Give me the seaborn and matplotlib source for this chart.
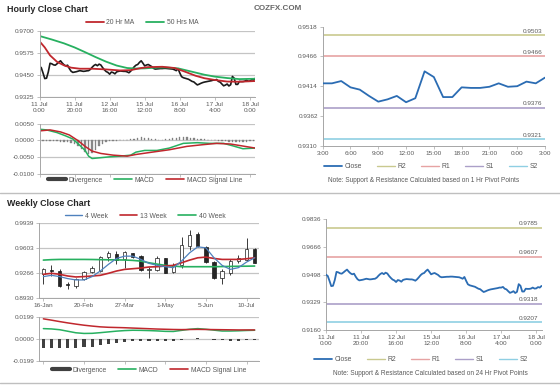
import numpy as np
import pandas as pd
import matplotlib
matplotlib.use("Agg")
import matplotlib.pyplot as plt
import seaborn as sns
from matplotlib.lines import Line2D

# ---------------- data ----------------
# hourly close, 11 Jul 0:00 .. 18 Jul 3:00 (trading hours)
hourly_close = [
    0.9498, 0.9490, 0.9460, 0.9428, 0.9430, 0.9465, 0.9515, 0.9512, 0.9506, 0.9504,
    0.9512, 0.9521, 0.9529, 0.9516, 0.9506, 0.9500, 0.9504, 0.9485, 0.9470, 0.9463,
    0.9465, 0.9467, 0.9470, 0.9473, 0.9471, 0.9469, 0.9470, 0.9472, 0.9473, 0.9480,
    0.9492, 0.9502, 0.9508, 0.9501, 0.9510, 0.9505, 0.9490, 0.9478, 0.9468, 0.9463,
    0.9453, 0.9465, 0.9462, 0.9455, 0.9466, 0.9469, 0.9471, 0.9470, 0.9469, 0.9469,
    0.9466, 0.9461, 0.9470, 0.9482, 0.9495, 0.9504, 0.9508, 0.9520, 0.9529, 0.9515,
    0.9500, 0.9505, 0.9508, 0.9502, 0.9496, 0.9486, 0.9482, 0.9483, 0.9484, 0.9485,
    0.9485, 0.9486, 0.9486, 0.9485, 0.9484, 0.9483, 0.9482, 0.9478, 0.9473, 0.9484,
    0.9460, 0.9439, 0.9433, 0.9430, 0.9427, 0.9424, 0.9418, 0.9412, 0.9409, 0.9400,
    0.9392, 0.9396, 0.9401, 0.9405, 0.9408, 0.9410, 0.9412, 0.9414, 0.9416, 0.9419,
    0.9419, 0.9423, 0.9412, 0.9408, 0.9397, 0.9387, 0.9391, 0.9397, 0.9386, 0.9393,
    0.9440, 0.9430, 0.9395, 0.9395, 0.9412, 0.9411, 0.9411, 0.9413, 0.9419, 0.9413,
    0.9414, 0.9422, 0.9419, 0.9429,
]
hour_tick_pos = [0, 20, 40, 60, 80, 100, 120]
hour_tick_labels = ["11 Jul\n0:00", "11 Jul\n20:00", "12 Jul\n16:00", "15 Jul\n12:00",
                    "16 Jul\n8:00", "17 Jul\n4:00", "18 Jul\n0:00"]

ma20_hours = [0, 3, 6, 10, 14, 18, 23, 30, 38, 46, 52, 58, 62, 70, 77, 83, 89, 94, 100, 107, 114, 123]
ma20_vals = [0.9640, 0.9605, 0.9560, 0.9523, 0.9503, 0.9490, 0.9484, 0.9484, 0.9480, 0.9474, 0.9476,
             0.9488, 0.9493, 0.9495, 0.9488, 0.9467, 0.9444, 0.9430, 0.9420, 0.9411, 0.9410, 0.9414]
ma50_hours = [0, 7, 14, 20, 26, 32, 38, 44, 50, 55, 60, 66, 72, 79, 84, 89, 94, 100, 107, 114, 123]
ma50_vals = [0.9670, 0.9650, 0.9628, 0.9605, 0.9578, 0.9550, 0.9524, 0.9502, 0.9488, 0.9485, 0.9486,
             0.9490, 0.9491, 0.9486, 0.9474, 0.9462, 0.9450, 0.9439, 0.9431, 0.9425, 0.9427]

macd_hours = [0, 4, 10, 15, 19, 23, 26, 28, 30, 34, 40, 46, 52, 55, 60, 67, 74, 82, 90, 97, 105, 110, 116, 123]
macd_vals = [0.0033, 0.0031, 0.0023, 0.0013, 0.0004, -0.0015, -0.0030, -0.0047, -0.0054, -0.0052,
             -0.0049, -0.0047, -0.0044, -0.0035, -0.0030, -0.0030, -0.0023, -0.0009, -0.0007,
             -0.0009, -0.0009, -0.0016, -0.0025, -0.0023]
signal_hours = [0, 6, 12, 17, 22, 26, 30, 35, 42, 50, 55, 63, 74, 84, 93, 101, 109, 116, 123]
signal_vals = [0.0028, 0.0031, 0.0025, 0.0016, -0.0001, -0.0018, -0.0032, -0.0039, -0.0044, -0.0047,
               -0.0042, -0.0036, -0.0028, -0.0018, -0.0013, -0.0009, -0.0011, -0.0017, -0.0023]
div_hours = list(range(0, 124, 2))
div_vals = [-0.0002, -0.0002, -0.0001, -0.0002, -0.0002, -0.0003, -0.0004, -0.0005, -0.0006, -0.0008,
            -0.0012, -0.0018, -0.0026, -0.0034, -0.0040, -0.0038, -0.0030, -0.0018, -0.0010, -0.0005,
            -0.0003, -0.0002, -0.0001, 0.0000, 0.0001, 0.0002, 0.0003, 0.0005, 0.0007, 0.0009,
            0.0008, 0.0006, 0.0004, 0.0003, 0.0002, 0.0002, 0.0003, 0.0004, 0.0006, 0.0008,
            0.0009, 0.0010, 0.0009, 0.0008, 0.0006, 0.0005, 0.0004, 0.0003, 0.0002, 0.0001,
            0.0000, -0.0001, -0.0002, -0.0003, -0.0004, -0.0005, -0.0006, -0.0006, -0.0005, -0.0004,
            -0.0003, -0.0002]

# weekly candles
week_open = [0.9253, 0.9310, 0.9297, 0.9115, 0.9097, 0.9186, 0.9288, 0.9297, 0.9484, 0.9528,
             0.9462, 0.9533, 0.9497, 0.9310, 0.9319, 0.9466, 0.9284, 0.9386, 0.9631, 0.9787,
             0.9622, 0.9417, 0.9208, 0.9275, 0.9431, 0.9453, 0.9595]
week_close = [0.9319, 0.9293, 0.9097, 0.9108, 0.9186, 0.9288, 0.9342, 0.9488, 0.9542, 0.9453,
              0.9551, 0.9484, 0.9319, 0.9319, 0.9466, 0.9275, 0.9373, 0.9644, 0.9778, 0.9631,
              0.9417, 0.9208, 0.9297, 0.9431, 0.9475, 0.9595, 0.9408]
week_high = [0.9342, 0.9373, 0.9319, 0.9150, 0.9200, 0.9300, 0.9364, 0.9497, 0.9564, 0.9564,
             0.9564, 0.9542, 0.9519, 0.9355, 0.9497, 0.9475, 0.9408, 0.9751, 0.9853, 0.9818,
             0.9640, 0.9431, 0.9328, 0.9453, 0.9519, 0.9742, 0.9609]
week_low = [0.9119, 0.9230, 0.9088, 0.9050, 0.9075, 0.9180, 0.9275, 0.9284, 0.9431, 0.9386,
            0.9342, 0.9475, 0.9297, 0.9208, 0.9297, 0.9266, 0.9275, 0.9342, 0.9586, 0.9622,
            0.9408, 0.9186, 0.9119, 0.9239, 0.9400, 0.9431, 0.9400]
ma4w = [0.9222, 0.9239, 0.9222, 0.9195, 0.9177, 0.9177, 0.9222, 0.9297, 0.9386, 0.9466,
        0.9497, 0.9497, 0.9453, 0.9400, 0.9373, 0.9355, 0.9342, 0.9431, 0.9542, 0.9622,
        0.9609, 0.9475, 0.9373, 0.9319, 0.9342, 0.9417, 0.9475]
ma13w = [0.9253, 0.9266, 0.9253, 0.9230, 0.9217, 0.9222, 0.9230, 0.9239, 0.9266, 0.9297,
         0.9319, 0.9328, 0.9337, 0.9351, 0.9355, 0.9364, 0.9373, 0.9408, 0.9444, 0.9475,
         0.9484, 0.9466, 0.9453, 0.9453, 0.9453, 0.9462, 0.9475]
ma40w = [0.9444, 0.9450, 0.9453, 0.9453, 0.9453, 0.9453, 0.9452, 0.9450, 0.9448, 0.9447,
         0.9445, 0.9440, 0.9430, 0.9408, 0.9390, 0.9373, 0.9364, 0.9355, 0.9355, 0.9355,
         0.9355, 0.9355, 0.9357, 0.9359, 0.9361, 0.9362, 0.9364]
wk_macd = [0.0096, 0.0093, 0.0086, 0.0072, 0.0058, 0.0052, 0.0053, 0.0059, 0.0066, 0.0073,
           0.0078, 0.0081, 0.0080, 0.0078, 0.0075, 0.0071, 0.0070, 0.0080, 0.0090, 0.0096,
           0.0090, 0.0082, 0.0074, 0.0074, 0.0076, 0.0079, 0.0081]
wk_signal = [0.0185, 0.0173, 0.0160, 0.0148, 0.0137, 0.0127, 0.0119, 0.0112, 0.0108, 0.0106,
             0.0104, 0.0101, 0.0098, 0.0095, 0.0092, 0.0090, 0.0088, 0.0087, 0.0088, 0.0089,
             0.0088, 0.0087, 0.0086, 0.0085, 0.0084, 0.0084, 0.0084]
wk_div = [-0.0084, -0.0084, -0.0084, -0.0080, -0.0078, -0.0075, -0.0068, -0.0054, -0.0042, -0.0033,
          -0.0027, -0.0020, -0.0020, -0.0020, -0.0020, -0.0020, -0.0020, -0.0006, 0.0000, 0.0006,
          0.0002, -0.0006, -0.0010, -0.0014, -0.0014, -0.0010, -0.0006]
week_tick_pos = [0, 5, 10, 15, 20, 25]
week_tick_labels = ["16-Jan", "20-Feb", "27-Mar", "1-May", "5-Jun", "10-Jul"]

# pivot levels
pivot_names = ["R2", "R1", "S1", "S2"]
pivot_1h = [0.9503, 0.9466, 0.9376, 0.9321]
pivot_24h = [0.9785, 0.9607, 0.9318, 0.9207]
day_tick_labels = ["3:00", "6:00", "9:00", "12:00", "15:00", "18:00", "21:00", "0:00", "3:00"]

# ---------------- styling ----------------
sns.set_theme(style="white")
plt.rcParams["font.family"] = ["Liberation Sans", "DejaVu Sans"]

W, H = 560, 386
TXT = "#595959"
AXC = "#a6a6a6"
GRID = "#c4c4c4"
FS = 4.6
LFS = 4.9
RED = "#c0272d"
GREEN = "#27b060"
BLUE_CLOSE = "#2b6cb3"
pivot_colors = ["#c9c98f", "#e6a3a3", "#ab9fc8", "#8fcfe3"]

fig = plt.figure(figsize=(W / 100, H / 100), dpi=100)
fig.patch.set_facecolor("white")


def make_ax(x0, yt, x1, yb):
    return fig.add_axes([x0 / W, 1 - yb / H, (x1 - x0) / W, (yb - yt) / H])


def style(ax, yticks, ylabels, xticks, xlabels, grid=True):
    ax.set_facecolor("none")
    for s in ("top", "right"):
        ax.spines[s].set_visible(False)
    for s in ("left", "bottom"):
        ax.spines[s].set_color(AXC)
        ax.spines[s].set_linewidth(0.7)
    ax.set_yticks(yticks)
    ax.set_yticklabels(ylabels)
    ax.set_xticks(xticks)
    ax.set_xticklabels(xlabels, linespacing=1.25)
    ax.tick_params(axis="both", labelsize=FS, labelcolor=TXT, color=AXC, length=2,
                   width=0.5, pad=1.5, direction="out", left=True, bottom=True)
    if grid:
        ax.grid(axis="y", color=GRID, lw=0.9)
        ax.grid(axis="x", visible=False)
        ax.set_axisbelow(True)
    else:
        ax.grid(False)
    ax.set_xlabel("")
    ax.set_ylabel("")


def legend(handles, labels, cx, cy, ncol, hl=2.6, cs=1.7):
    fig.legend(handles, labels, loc="center", bbox_to_anchor=(cx / W, 1 - cy / H),
               ncol=ncol, frameon=False, fontsize=LFS, handlelength=hl, handletextpad=0.4,
               columnspacing=cs, borderaxespad=0, borderpad=0, labelcolor=TXT)


hours = np.arange(len(hourly_close))

# ---------- Hourly close chart ----------
ax1 = make_ax(39.5, 30.7, 255.2, 96.7)
sns.lineplot(x=hours, y=hourly_close, ax=ax1, color="#1a1a1a", lw=1.2)
sns.lineplot(x=ma50_hours, y=ma50_vals, ax=ax1, color=GREEN, lw=1.3)
sns.lineplot(x=ma20_hours, y=ma20_vals, ax=ax1, color=RED, lw=1.3)
ax1.set_xlim(0, 123)
ax1.set_ylim(0.9325, 0.9700)
style(ax1, [0.9325, 0.9450, 0.9575, 0.9700], ["0.9325", "0.9450", "0.9575", "0.9700"],
      hour_tick_pos, hour_tick_labels)
legend([Line2D([], [], color=RED, lw=1.3), Line2D([], [], color=GREEN, lw=1.3)],
       ["20 Hr MA", "50 Hrs MA"], 142, 22.5, 2)

# ---------- Hourly MACD ----------
ax2 = make_ax(39.5, 123.5, 255.2, 174.0)
ax2.bar(div_hours, div_vals, width=0.8, color="#8c8c8c", edgecolor="#6e6e6e", lw=0.2)
sns.lineplot(x=macd_hours, y=macd_vals, ax=ax2, color=GREEN, lw=1.1)
sns.lineplot(x=signal_hours, y=signal_vals, ax=ax2, color=RED, lw=1.1)
ax2.set_xlim(0, 123)
ax2.set_ylim(-0.0100, 0.0050)
style(ax2, [-0.0100, -0.0050, 0.0000, 0.0050], ["-0.0100", "-0.0050", "0.0000", "0.0050"],
      hour_tick_pos, [""] * len(hour_tick_pos))
legend([Line2D([], [], color="#404040", lw=3), Line2D([], [], color=GREEN, lw=1.2),
        Line2D([], [], color=RED, lw=1.2)],
       ["Divergence", "MACD", "MACD Signal Line"], 145, 180.3, 3)

# ---------- Weekly close chart ----------
ax3 = make_ax(39.3, 223.3, 258.7, 298.3)
weeks = np.arange(len(week_close))
ax3.vlines(weeks, week_low, week_high, color="#1a1a1a", lw=0.6, zorder=2)
up = [c >= o for o, c in zip(week_open, week_close)]
ax3.bar(weeks, [abs(c - o) + 0.0004 for o, c in zip(week_open, week_close)],
        bottom=[min(o, c) - 0.0002 for o, c in zip(week_open, week_close)], width=0.42,
        color=["white" if u else "#262626" for u in up], edgecolor="#1a1a1a", lw=0.5, zorder=3)
sns.lineplot(x=weeks, y=ma40w, ax=ax3, color=GREEN, lw=1.2, zorder=4)
sns.lineplot(x=weeks, y=ma13w, ax=ax3, color=RED, lw=1.2, zorder=4)
sns.lineplot(x=weeks, y=ma4w, ax=ax3, color="#4f81bd", lw=0.9, zorder=4)
ax3.set_xlim(-0.5, 26.5)
ax3.set_ylim(0.8930, 0.9939)
style(ax3, [0.8930, 0.9266, 0.9603, 0.9939], ["0.8930", "0.9266", "0.9603", "0.9939"],
      week_tick_pos, week_tick_labels)
legend([Line2D([], [], color="#4f81bd", lw=1.0), Line2D([], [], color=RED, lw=1.2),
        Line2D([], [], color=GREEN, lw=1.2)],
       ["4 Week", "13 Week", "40 Week"], 145, 216, 3)

# ---------- Weekly MACD ----------
ax4 = make_ax(39.3, 317.3, 258.7, 361.0)
ax4.bar(weeks, wk_div, width=0.38, color="#404040", lw=0)
sns.lineplot(x=weeks, y=wk_macd, ax=ax4, color=GREEN, lw=1.1)
sns.lineplot(x=weeks, y=wk_signal, ax=ax4, color=RED, lw=1.1)
ax4.set_xlim(-0.5, 26.5)
ax4.set_ylim(-0.0199, 0.0199)
style(ax4, [-0.0199, 0.0, 0.0199], ["-0.0199", "0.0000", "0.0199"],
      week_tick_pos, [""] * len(week_tick_pos))
legend([Line2D([], [], color="#404040", lw=3), Line2D([], [], color=GREEN, lw=1.2),
        Line2D([], [], color=RED, lw=1.2)],
       ["Divergence", "MACD", "MACD Signal Line"], 149, 370, 3)


# ---------- pivot charts ----------
def pivot_chart(ax, xs, ys, levels, xlim):
    for lvl, col in zip(levels, pivot_colors):
        ax.axhline(lvl, color=col, lw=1.2, zorder=1)
        ax.annotate(f"{lvl:.4f}", xy=(xlim[1], lvl), xytext=(-2, 1.2),
                    textcoords="offset points", ha="right", va="bottom",
                    fontsize=FS, color=TXT)
    sns.lineplot(x=xs, y=ys, ax=ax, color=BLUE_CLOSE, lw=1.3, zorder=3)
    ax.set_xlim(*xlim)


last_day = hourly_close[-25:]
ax5 = make_ax(322.7, 26.7, 545.0, 145.7)
pivot_chart(ax5, np.arange(len(last_day)), last_day, pivot_1h, (0, 24))
ax5.set_ylim(0.9310, 0.9518)
style(ax5, [0.9310, 0.9362, 0.9414, 0.9466, 0.9518],
      ["0.9310", "0.9362", "0.9414", "0.9466", "0.9518"],
      list(range(0, 25, 3)), day_tick_labels, grid=False)

ax6 = make_ax(326.0, 219.3, 541.5, 330.0)
pivot_chart(ax6, hours, hourly_close, pivot_24h, (0, 123))
ax6.set_ylim(0.9160, 0.9836)
style(ax6, [0.9160, 0.9329, 0.9498, 0.9667, 0.9836],
      ["0.9160", "0.9329", "0.9498", "0.9666", "0.9836"],
      hour_tick_pos, hour_tick_labels, grid=False)

piv_handles = [Line2D([], [], color=BLUE_CLOSE, lw=1.3)] + \
              [Line2D([], [], color=c, lw=1.0) for c in pivot_colors]
legend(piv_handles, ["Close"] + pivot_names, 431, 166.7, 5, hl=2.6, cs=2.2)
legend(piv_handles, ["Close"] + pivot_names, 421, 359.5, 5, hl=2.6, cs=2.2)

fig.text(424 / W, 1 - 180 / H, "Note: Support & Resistance Calculated based on 1 Hr Pivot Points",
         ha="center", va="center", fontsize=4.7, color=TXT)
fig.text(430 / W, 1 - 373.3 / H, "Note: Support & Resistance Calculated based on 24 Hr Pivot Points",
         ha="center", va="center", fontsize=4.7, color=TXT)

# ---------- titles & separators ----------
fig.text(7 / W, 1 - 9 / H, "Hourly Close Chart", ha="left", va="center",
         fontsize=6.4, fontweight="bold", color="#262626")
fig.text(7 / W, 1 - 203 / H, "Weekly Close Chart", ha="left", va="center",
         fontsize=6.4, fontweight="bold", color="#262626")
fig.text(277.5 / W, 1 - 9 / H, "COZFX.COM", ha="center", va="center",
         fontsize=5.8, fontweight="bold", color="#666666")
for yy in (192.7, 383.0):
    fig.add_artist(Line2D([0, 1], [1 - yy / H, 1 - yy / H], color="#bfbfbf", lw=1.0))

fig.savefig("out.png", dpi=100, facecolor="white")
